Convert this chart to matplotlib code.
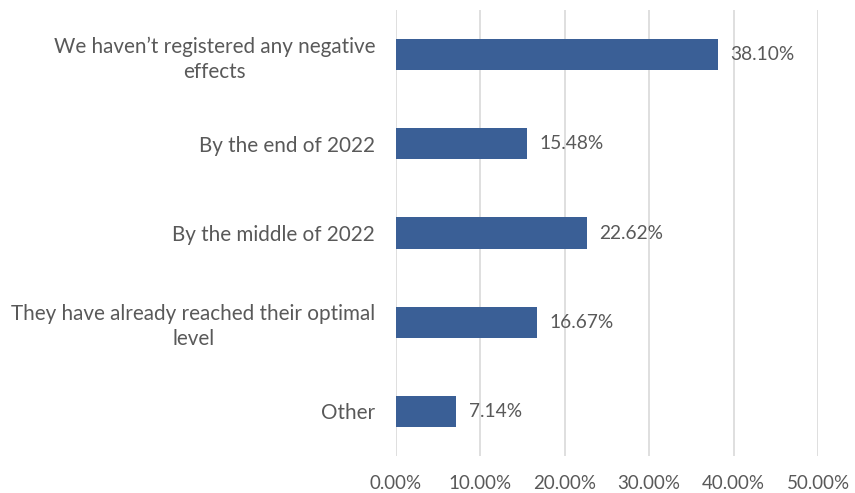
import matplotlib
matplotlib.use("Agg")
import matplotlib.pyplot as plt
from matplotlib.ticker import FuncFormatter

categories = [
    "We haven\u2019t registered any negative\neffects",
    "By the end of 2022",
    "By the middle of 2022",
    "They have already reached their optimal\nlevel",
    "Other",
]
values = [38.10, 15.48, 22.62, 16.67, 7.14]
xticks = [0, 10, 20, 30, 40, 50]

bar_color = "#3a5f96"
text_color = "#595959"
grid_color = "#d9d9d9"

plt.rcParams["font.family"] = ["Lato", "DejaVu Sans"]

fig = plt.figure(figsize=(8.55, 4.93), dpi=100)
ax = fig.add_axes([0.4632, 0.075, 0.9567 - 0.4632, 0.9797 - 0.075])

ypos = list(range(len(categories)))
bars = ax.barh(ypos, values, height=0.35, color=bar_color, zorder=3)
ax.set_ylim(len(categories) - 0.5, -0.5)
ax.set_xlim(0, 50)

ax.set_xticks(xticks)
ax.xaxis.set_major_formatter(FuncFormatter(lambda v, p: f"{v:.2f}%"))
ax.set_yticks(ypos)
ax.set_yticklabels(categories, multialignment="center", linespacing=1.3,
                   fontsize=14.9)

ax.grid(axis="x", color=grid_color, linewidth=1.2, zorder=0)
for s in ax.spines.values():
    s.set_visible(False)
ax.tick_params(axis="both", length=0, colors=text_color)
ax.tick_params(axis="y", pad=15)
ax.tick_params(axis="x", pad=14, labelsize=13.5)

for b, v in zip(bars, values):
    ax.annotate(f"{v:.2f}%", xy=(b.get_width(), b.get_y() + b.get_height() / 2),
                xytext=(9, 0), textcoords="offset points", va="center", ha="left",
                color=text_color, fontsize=13.8)

fig.savefig("out.png", dpi=100)
